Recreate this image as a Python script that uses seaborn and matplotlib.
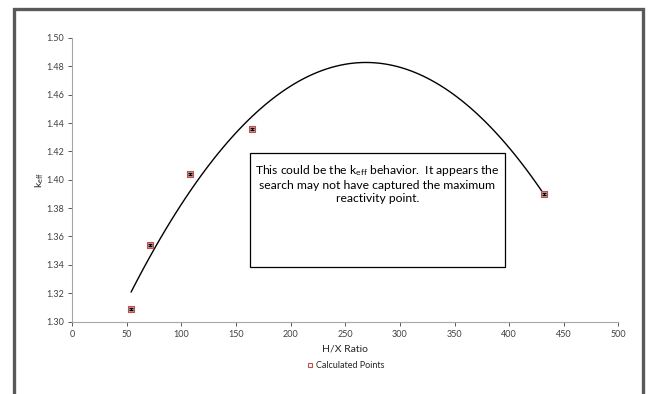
import matplotlib
matplotlib.use("Agg")
import matplotlib.pyplot as plt
from matplotlib.patches import Rectangle
from matplotlib.lines import Line2D
import seaborn as sns
import pandas as pd

# Calculated k-eff values against the H/X moderation ratio
hx_ratio = [54, 71.5, 108, 165, 432]
k_eff = [1.309, 1.354, 1.404, 1.436, 1.390]
k_err = [0.0008, 0.0008, 0.0008, 0.0008, 0.0008]

x_ticks = [0, 50, 100, 150, 200, 250, 300, 350, 400, 450, 500]
y_ticks = [1.30, 1.32, 1.34, 1.36, 1.38, 1.40, 1.42, 1.44, 1.46, 1.48, 1.50]

note = ("This could be the k$_{\\mathregular{eff}}$ behavior.  It appears the\n"
        "search may not have captured the maximum\n"
        "reactivity point.")

sns.set_theme(style="white")
plt.rcParams["font.family"] = ["Lato", "DejaVu Sans"]
plt.rcParams["mathtext.default"] = "regular"

df = pd.DataFrame({"hx": hx_ratio, "k": k_eff})

fig = plt.figure(figsize=(6.49, 3.94), dpi=100)
ax = fig.add_axes([0.111, 0.184, 0.842, 0.7196])

# second-order polynomial trend through the calculated points
sns.regplot(data=df, x="hx", y="k", order=2, ci=None, scatter=False,
            line_kws=dict(color="black", lw=1.0), ax=ax)

# calculated points with their uncertainties
sns.scatterplot(x=hx_ratio, y=k_eff, marker="s", s=18, color="#dcb4b4",
                edgecolor="#c0504d", linewidth=0.8, zorder=3, ax=ax)
ax.errorbar(hx_ratio, k_eff, yerr=k_err, fmt="none", ecolor="black",
            elinewidth=0.8, capsize=1.2, zorder=5)

ax.set_xlim(0, 500)
ax.set_ylim(1.30, 1.50)
ax.set_xticks(x_ticks)
ax.set_yticks(y_ticks)
ax.set_yticklabels([f"{v:.2f}" for v in y_ticks])
ax.tick_params(axis="both", labelsize=6.5, colors="#404040", length=3,
               width=0.6, direction="out", pad=3, bottom=True, left=True)
for t in ax.get_xticklines() + ax.get_yticklines():
    t.set_color("#a6a6a6")
for side in ("top", "right"):
    ax.spines[side].set_visible(False)
for side in ("left", "bottom"):
    ax.spines[side].set_color("#a6a6a6")
    ax.spines[side].set_linewidth(0.8)

ax.set_xlabel("H/X Ratio", fontsize=7.5, color="#262626", labelpad=4)
ax.set_ylabel("k$_{eff}$", fontsize=7.5, color="#262626", labelpad=0)

# legend below the axis title
handle = Line2D([], [], marker="s", linestyle="none", markersize=3.5,
                markerfacecolor="white", markeredgecolor="#c0504d",
                markeredgewidth=0.8)
fig.legend([handle], ["Calculated Points"], loc="center",
           bbox_to_anchor=(0.533, 0.073), frameon=False, fontsize=6.5,
           handlelength=0.6, handletextpad=0.3, labelcolor="#262626")

# note box
ax.add_patch(Rectangle((0.326, 0.192), 0.466, 0.402, transform=ax.transAxes,
                       facecolor="white", edgecolor="black", lw=0.9, zorder=6))
ax.text(0.5588, 0.56, note, transform=ax.transAxes, ha="center", va="top",
        fontsize=8.7, color="black", linespacing=1.22, zorder=7)

# outer chart frame (open at the bottom)
fig.add_artist(Line2D([0.021, 0.021, 0.9915, 0.9915], [0.0, 0.976, 0.976, 0.0],
                      transform=fig.transFigure, color="#595959", lw=2.4,
                      solid_joinstyle="miter"))

fig.savefig("out.png", dpi=100)
